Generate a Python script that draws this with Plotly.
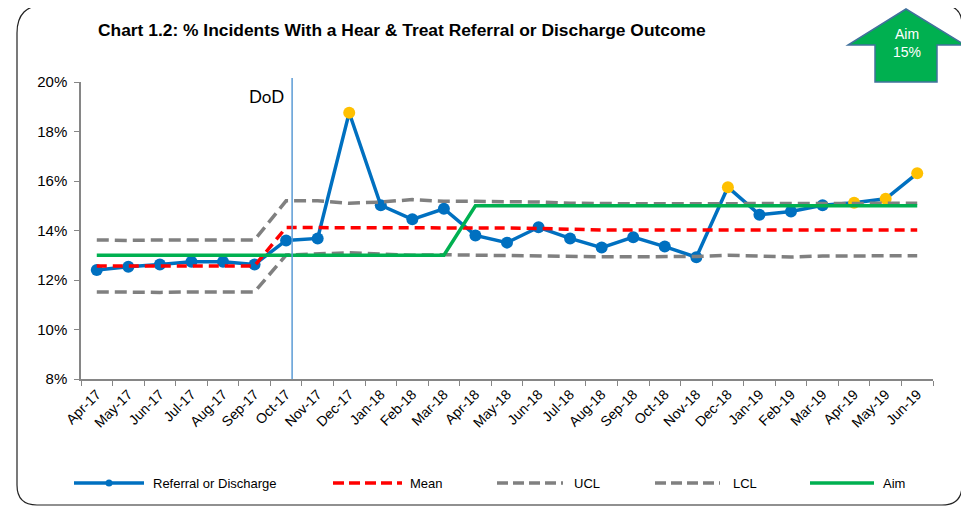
import plotly.graph_objects as go

# ---- data (percent) ----
months = ["Apr-17", "May-17", "Jun-17", "Jul-17", "Aug-17", "Sep-17", "Oct-17", "Nov-17", "Dec-17",
          "Jan-18", "Feb-18", "Mar-18", "Apr-18", "May-18", "Jun-18", "Jul-18", "Aug-18", "Sep-18",
          "Oct-18", "Nov-18", "Dec-18", "Jan-19", "Feb-19", "Mar-19", "Apr-19", "May-19", "Jun-19"]

referral = [12.40, 12.54, 12.63, 12.74, 12.74, 12.63, 13.60, 13.68, 18.76,
            15.02, 14.45, 14.88, 13.80, 13.51, 14.13, 13.68, 13.31, 13.73,
            13.35, 12.92, 15.75, 14.64, 14.77, 15.02, 15.12, 15.28, 16.31]

mean = [12.57, 12.57, 12.57, 12.57, 12.57, 12.57, 14.12, 14.12, 14.12,
        14.12, 14.12, 14.12, 14.11, 14.10, 14.08, 14.04, 14.02, 14.02,
        14.02, 14.02, 14.02, 14.02, 14.02, 14.02, 14.02, 14.02, 14.02]

ucl = [13.62, 13.60, 13.62, 13.62, 13.62, 13.62, 15.20, 15.20, 15.10,
       15.15, 15.25, 15.18, 15.18, 15.18, 15.15, 15.10, 15.08, 15.08,
       15.08, 15.08, 15.08, 15.10, 15.10, 15.10, 15.10, 15.10, 15.10]

lcl = [11.52, 11.50, 11.50, 11.52, 11.52, 11.52, 13.01, 13.05, 13.10,
       13.05, 13.00, 13.02, 13.00, 12.98, 12.98, 12.95, 12.94, 12.94,
       12.94, 12.95, 13.00, 12.98, 12.93, 12.97, 12.97, 12.97, 12.98]

aim = [13.0] * 12 + [15.0] * 15

# points flagged as special cause (shown in amber)
flagged = ["Dec-17", "Dec-18", "Apr-19", "May-19", "Jun-19"]

aim_label = "Aim<br>15%"
dod_position = 6.19  # DoD marker between Oct-17 and Nov-17

BLUE = "#0070C0"
AMBER = "#FFC000"
RED = "#FF0000"
GREY = "#808080"
GREEN = "#00B050"

# page body has an 8px margin, so the figure is sized to fit the window
PAGE = 8
W, H = 969 - PAGE, 507 - PAGE
L, R, T, B = 73, 36, 74, 128
PW, PH = W - L - R, H - T - B


# helpers: screen pixel -> paper coordinates
def px(x):
    return (x - PAGE - L) / PW


def py(y):
    return (T + PH - (y - PAGE)) / PH


fig = go.Figure()

marker_colors = [AMBER if m in flagged else BLUE for m in months]
fig.add_trace(go.Scatter(x=months, y=referral, mode="lines+markers", name="Referral or Discharge",
                         line=dict(color=BLUE, width=3.5),
                         marker=dict(size=12, color=marker_colors)))
fig.add_trace(go.Scatter(x=months, y=mean, mode="lines", name="Mean",
                         line=dict(color=RED, width=3.5, dash="10px,6px")))
fig.add_trace(go.Scatter(x=months, y=ucl, mode="lines", name="UCL",
                         line=dict(color=GREY, width=3.5, dash="12px,6px")))
fig.add_trace(go.Scatter(x=months, y=lcl, mode="lines", name="LCL",
                         line=dict(color=GREY, width=3.5, dash="12px,6px")))
fig.add_trace(go.Scatter(x=months, y=aim, mode="lines", name="Aim",
                         line=dict(color=GREEN, width=3.5)))

shapes = []
# rounded outer border
x0, x1, y0, y1 = 17, 962, 5, 505
r1, r2 = 28, 20
border = (f"M {px(x0)} {py(y0 + r1)} Q {px(x0)} {py(y0)} {px(x0 + r1)} {py(y0)} "
          f"L {px(x1 - r2)} {py(y0)} Q {px(x1)} {py(y0)} {px(x1)} {py(y0 + r2)} "
          f"L {px(x1)} {py(y1 - r2)} Q {px(x1)} {py(y1)} {px(x1 - r2)} {py(y1)} "
          f"L {px(x0 + r2)} {py(y1)} Q {px(x0)} {py(y1)} {px(x0)} {py(y1 - r2)} Z")
shapes.append(dict(type="path", xref="paper", yref="paper", path=border,
                   line=dict(color="#222222", width=1.2), layer="below"))

# DoD vertical line
shapes.append(dict(type="line", xref="x", yref="paper", x0=dod_position, x1=dod_position,
                   y0=0, y1=py(78), line=dict(color="#5B9BD5", width=1.5)))

# aim arrow
pts = [(906, 9), (965, 45), (937, 45), (937, 82), (875, 82), (875, 45), (848, 45)]
arrow = "M " + " L ".join(f"{px(a)} {py(b)}" for a, b in pts) + " Z"
shapes.append(dict(type="path", xref="paper", yref="paper", path=arrow,
                   fillcolor=GREEN, line=dict(color="#41719C", width=1.5)))

# manual legend
legend_y = py(483)
legend_items = [
    ("Referral or Discharge", BLUE, "solid", 74, 144, 151),
    ("Mean", RED, "11px,5px", 333, 402, 408),
    ("UCL", GREY, "11px,5px", 497, 563, 572),
    ("LCL", GREY, "11px,5px", 655, 720, 731),
    ("Aim", GREEN, "solid", 810, 874, 881),
]
annotations = []
for name, color, dash, lx0, lx1, tx in legend_items:
    shapes.append(dict(type="line", xref="paper", yref="paper", x0=px(lx0), x1=px(lx1),
                       y0=legend_y, y1=legend_y, line=dict(color=color, width=3.5, dash=dash)))
    annotations.append(dict(x=px(tx), y=legend_y, xref="paper", yref="paper", text=name,
                            showarrow=False, xanchor="left", yanchor="middle",
                            font=dict(size=13, color="#000000")))
shapes.append(dict(type="circle", xref="paper", yref="paper", xsizemode="pixel", ysizemode="pixel",
                   xanchor=px(109), yanchor=legend_y, x0=-3.5, x1=3.5, y0=-3.5, y1=3.5,
                   fillcolor=BLUE, line=dict(width=0)))

annotations += [
    dict(x=px(96), y=py(30), xref="paper", yref="paper", xanchor="left", yanchor="middle",
         text="<b>Chart 1.2: % Incidents With a Hear & Treat Referral or Discharge Outcome</b>",
         showarrow=False, font=dict(size=17.4, color="#000000")),
    dict(x=px(266), y=py(96), xref="paper", yref="paper", text="DoD", showarrow=False,
         xanchor="center", yanchor="middle", font=dict(family="Lato", size=17, color="#000000")),
    dict(x=px(907), y=py(43), xref="paper", yref="paper", text=aim_label, showarrow=False,
         xanchor="center", yanchor="middle", font=dict(size=14, color="#FFFFFF")),
]

fig.update_layout(
    width=W, height=H,
    margin=dict(l=L, r=R, t=T, b=B),
    paper_bgcolor="white", plot_bgcolor="white",
    font=dict(family="Liberation Sans, Arial", color="#000000"),
    showlegend=False,
    shapes=shapes,
    annotations=annotations,
)
fig.update_xaxes(type="category", tickangle=-45, tickfont=dict(size=14),
                 showline=True, linecolor="#868686", linewidth=1.5,
                 ticks="outside", tickson="boundaries", ticklen=5, tickcolor="#868686",
                 showgrid=False, zeroline=False, range=[-0.5, 26.5])
fig.update_yaxes(range=[8, 20], dtick=2, ticksuffix="%", tickfont=dict(size=15),
                 showline=True, linecolor="#868686", linewidth=1.5,
                 ticks="outside", ticklen=5, tickcolor="#868686", ticklabelstandoff=4,
                 showgrid=False, zeroline=False)

fig.write_html("out.html")
